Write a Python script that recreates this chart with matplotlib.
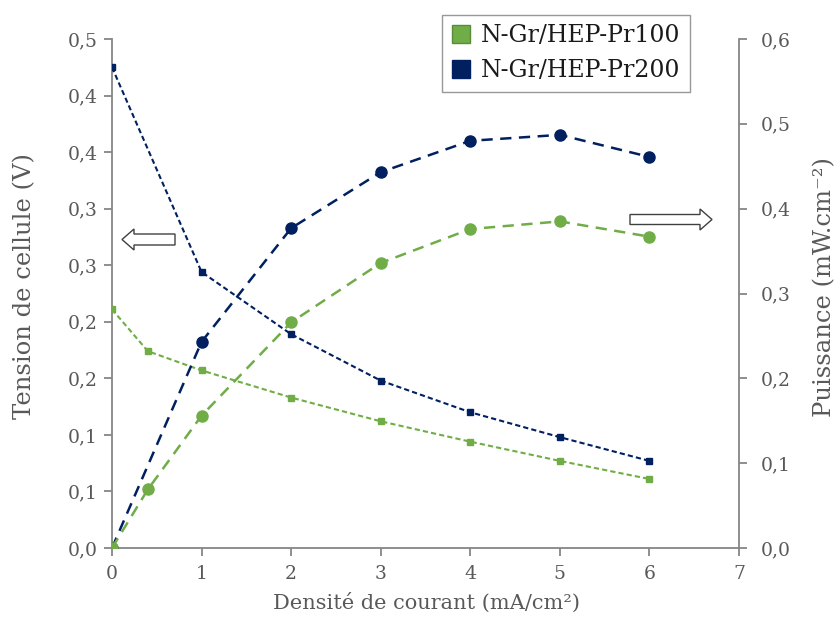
import matplotlib
matplotlib.use("Agg")
import matplotlib.pyplot as plt
from matplotlib.patches import Polygon, Patch

plt.rcParams['font.family'] = ['DejaVu Serif']
plt.rcParams['mathtext.fontset'] = 'dejavuserif'

# ---- data ----
series_names = ["N-Gr/HEP-Pr100", "N-Gr/HEP-Pr200"]
x_pr100 = [0, 0.4, 1, 2, 3, 4, 5, 6]
v_pr100 = [0.211, 0.174, 0.157, 0.133, 0.112, 0.094, 0.077, 0.061]
p_pr100 = [0.0, 0.069, 0.156, 0.266, 0.336, 0.376, 0.385, 0.367]
x_pr200 = [0, 1, 2, 3, 4, 5, 6]
v_pr200 = [0.425, 0.244, 0.189, 0.148, 0.120, 0.098, 0.077]
p_pr200 = [0.0, 0.243, 0.377, 0.443, 0.480, 0.487, 0.461]

left_ticks = [0, 0.05, 0.10, 0.15, 0.20, 0.25, 0.30, 0.35, 0.40, 0.45]
left_labels = ["0,0", "0,1", "0,1", "0,2", "0,2", "0,3", "0,3", "0,4", "0,4", "0,5"]
right_ticks = [0, 0.1, 0.2, 0.3, 0.4, 0.5, 0.6]
right_labels = ["0,0", "0,1", "0,2", "0,3", "0,4", "0,5", "0,6"]
x_ticks = [0, 1, 2, 3, 4, 5, 6, 7]

green = "#70AD47"
navy = "#002060"
spine_c = "#868686"
text_c = "#595959"

W, H = 837, 617
fig = plt.figure(figsize=(W / 100, H / 100), dpi=100)
L, R, T, B = 112, 739, 39, 548
ax = fig.add_axes([L / W, (H - B) / H, (R - L) / W, (B - T) / H])
ax2 = ax.twinx()

# power curves (right axis)
ax2.plot(x_pr200, p_pr200, color=navy, ls=(0, (4.5, 3)), lw=1.8, marker='o', ms=8, zorder=3)
ax2.plot(x_pr100, p_pr100, color=green, ls=(0, (4.5, 3)), lw=1.8, marker='o', ms=8, zorder=4)
# voltage curves (left axis)
ax.plot(x_pr200, v_pr200, color=navy, ls=(0, (2.5, 1.5)), lw=1.5, marker='s', ms=5, zorder=3)
ax.plot(x_pr100, v_pr100, color=green, ls=(0, (2.5, 1.5)), lw=1.5, marker='s', ms=5, zorder=3)

ax.set_xlim(0, 7)
ax.set_ylim(0, 0.45)
ax2.set_ylim(0, 0.6)
ax.set_xticks(x_ticks)
ax.set_xticklabels([str(t) for t in x_ticks])
ax.set_yticks(left_ticks)
ax.set_yticklabels(left_labels)
ax2.set_yticks(right_ticks)
ax2.set_yticklabels(right_labels)

for a in (ax, ax2):
    a.spines['top'].set_visible(False)
    for s in ('left', 'right', 'bottom'):
        a.spines[s].set_color(spine_c)
        a.spines[s].set_linewidth(1.3)
    a.tick_params(colors=spine_c, labelcolor=text_c, labelsize=13.5, length=6, width=1.3, direction='out')
ax.tick_params(axis='x', pad=6)
ax.tick_params(axis='y', pad=4)
ax2.tick_params(axis='y', pad=10)
ax.spines['right'].set_visible(False)
ax2.spines['left'].set_visible(False)
ax2.spines['bottom'].set_visible(False)

fig.text(427 / W, 1 - 603 / H, "Densité de courant (mA/cm²)", ha='center', va='center',
         fontsize=15, color=text_c)
fig.text(25 / W, 1 - 286 / H, "Tension de cellule (V)", ha='center', va='center',
         rotation=90, fontsize=17.5, color=text_c)
fig.text(825 / W, 1 - 287 / H, "Puissance (mW.cm⁻²)", ha='center', va='center',
         rotation=90, fontsize=17.5, color=text_c)

handles = [Patch(facecolor=green, edgecolor="#5a8a3a"), Patch(facecolor=navy, edgecolor=navy)]
leg = fig.legend(handles, series_names, loc='upper right', bbox_to_anchor=(690 / W, 1 - 15 / H),
                 fontsize=17, frameon=True, fancybox=False, edgecolor="#7f7f7f",
                 handlelength=0.8, handleheight=0.8, handletextpad=0.45, borderpad=0.4,
                 labelspacing=0.5, borderaxespad=0)
leg.get_frame().set_linewidth(1.0)
for t in leg.get_texts():
    t.set_color("#1a1a1a")


def px(pts):
    return [(x / W, 1 - y / H) for x, y in pts]

left_arrow = [(122, 239.5), (134, 229), (134, 234), (175, 234), (175, 245), (134, 245), (134, 250)]
right_arrow = [(712, 219.5), (700, 209), (700, 214.5), (630, 214.5), (630, 224.5), (700, 224.5), (700, 230)]
for poly in (left_arrow, right_arrow):
    fig.patches.append(Polygon(px(poly), closed=True, transform=fig.transFigure,
                               facecolor='white', edgecolor='#404040', lw=1.0, zorder=5))

fig.savefig("out.png", dpi=100)
